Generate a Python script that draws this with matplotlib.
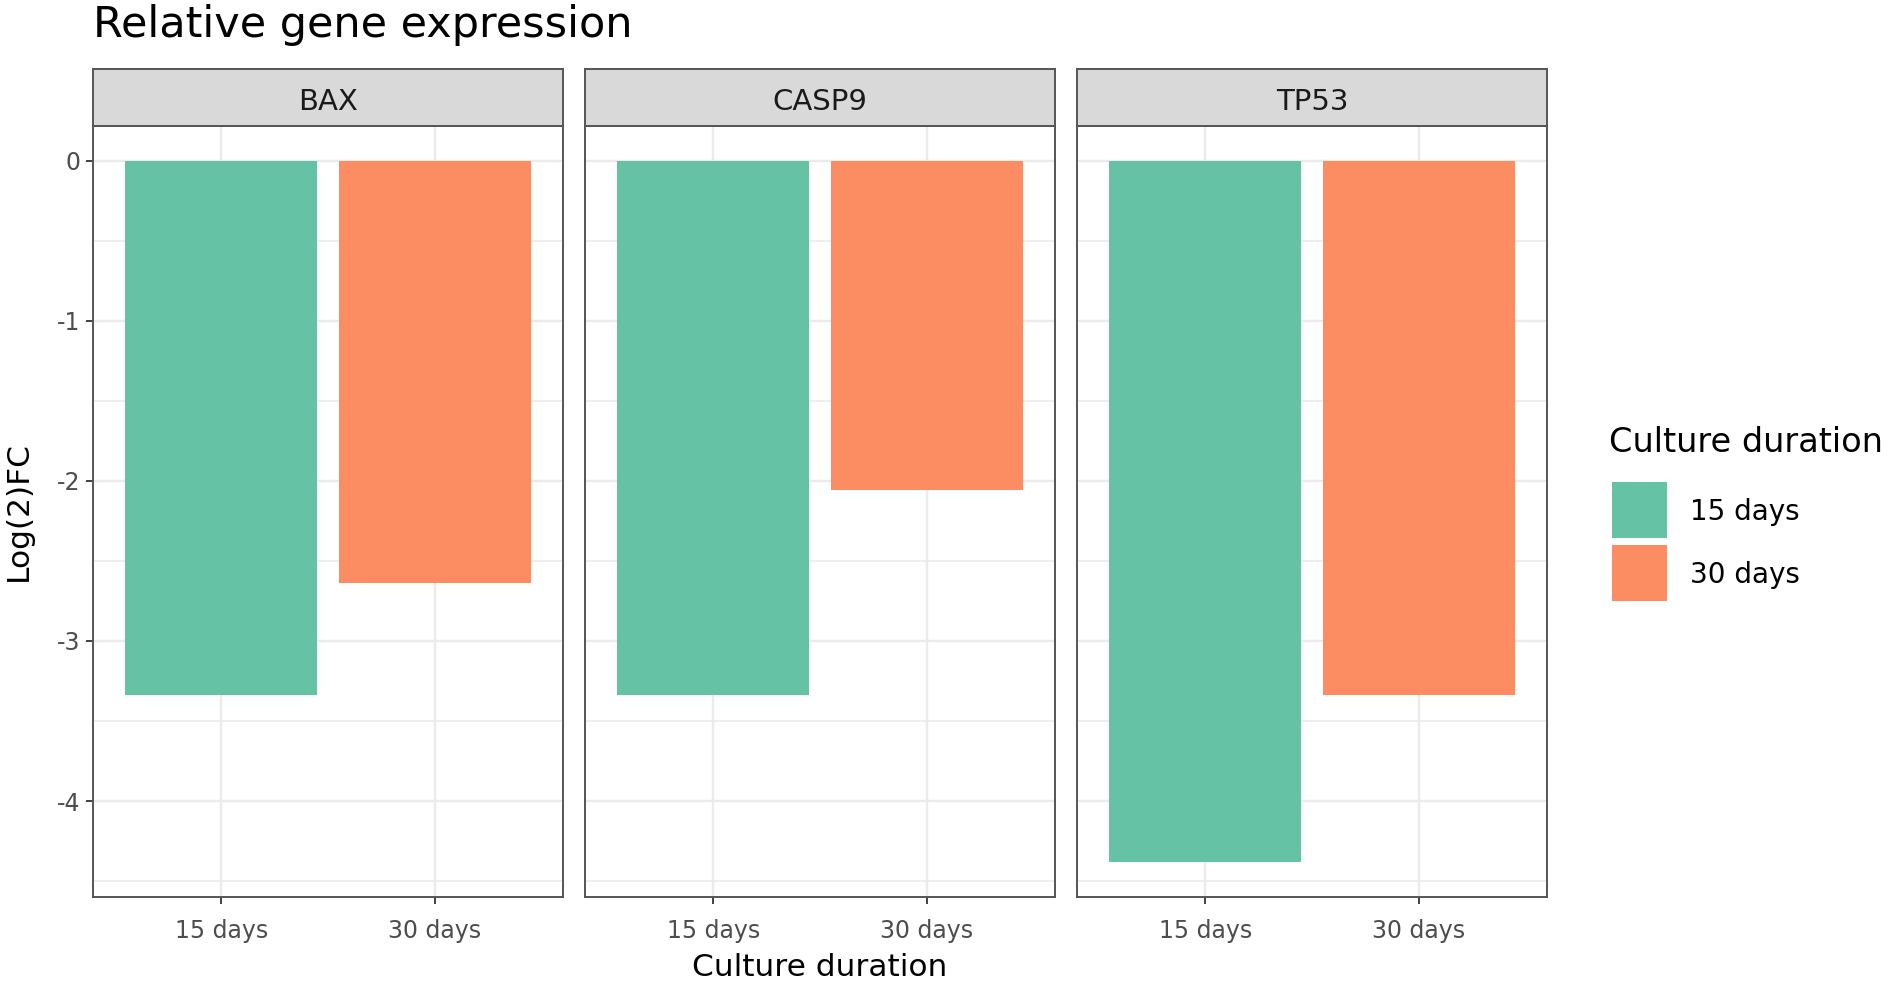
import matplotlib
matplotlib.use("Agg")
import matplotlib.pyplot as plt
from matplotlib.patches import Rectangle

# ---- data ----
genes = ["BAX", "CASP9", "TP53"]
durations = ["15 days", "30 days"]
log2fc_15days = [-3.34, -3.34, -4.38]
log2fc_30days = [-2.64, -2.06, -3.34]
colors = ["#66C2A5", "#FC8D62"]
y_ticks = [0, -1, -2, -3, -4]
y_minor = [-0.5, -1.5, -2.5, -3.5, -4.5]

plt.rcParams["font.family"] = ["DejaVu Sans"]

W, H = 1893, 984
fig = plt.figure(figsize=(W / 100, H / 100), dpi=100)
fig.patch.set_facecolor("white")

series = [log2fc_15days, log2fc_30days]
allvals = log2fc_15days + log2fc_30days + [0]
vmin, vmax = min(allvals), max(allvals)
rng = vmax - vmin
ylim = (vmin - 0.05 * rng, vmax + 0.05 * rng)

panel_top, panel_bot, strip_top = 125.6, 897.0, 68.8
panel_w = 470
border_c = "#333333"
grid_c = "#EBEBEB"

for i, g in enumerate(genes):
    left = 93 + i * 492
    ax = fig.add_axes([left / W, 1 - panel_bot / H, panel_w / W, (panel_bot - panel_top) / H])
    xs = list(range(1, len(durations) + 1))
    vals = [s[i] for s in series]
    ax.bar(xs, vals, width=0.9, color=colors, zorder=3)
    ax.set_xlim(0.4, len(durations) + 0.6)
    ax.set_ylim(*ylim)
    ax.set_xticks(xs)
    ax.set_xticklabels(durations)
    ax.set_yticks(y_ticks)
    ax.set_yticks(y_minor, minor=True)
    ax.grid(True, which="major", color=grid_c, linewidth=1.7, zorder=0)
    ax.grid(True, which="minor", axis="y", color=grid_c, linewidth=1.2, zorder=0)
    ax.set_axisbelow(True)
    for sp in ax.spines.values():
        sp.set_color("#555555")
        sp.set_linewidth(1.4)
    ax.tick_params(axis="both", which="major", length=5, width=1.3, color=border_c,
                   labelsize=17, labelcolor="#4D4D4D")
    ax.tick_params(axis="x", pad=11)
    ax.tick_params(axis="y", pad=4)
    ax.tick_params(which="minor", length=0)
    if i == 0:
        ax.set_yticklabels([str(t) for t in y_ticks])
    else:
        ax.tick_params(axis="y", which="both", left=False, labelleft=False)

    st = fig.add_axes([left / W, 1 - panel_top / H, panel_w / W, (panel_top - strip_top) / H])
    st.set_facecolor("#D9D9D9")
    st.set_xticks([])
    st.set_yticks([])
    for sp in st.spines.values():
        sp.set_color("#555555")
        sp.set_linewidth(1.4)
    st.text(0.5, 0.42, g, ha="center", va="center", fontsize=21, color="#1A1A1A",
            transform=st.transAxes)

# titles
fig.text(93 / W, 1 - 37 / H, "Relative gene expression", fontsize=31, ha="left",
         va="baseline", color="black")
fig.text((93 + 1547) / 2 / W, 1 - 968 / H, "Culture duration", fontsize=22.5,
         ha="center", va="center", color="black")
fig.text(18 / W, 1 - (panel_top + panel_bot) / 2 / H, "Log(2)FC", fontsize=22.5,
         ha="center", va="center", rotation=90, color="black")

# legend
fig.text(1609 / W, 1 - 443 / H, "Culture duration", fontsize=24.2, ha="left",
         va="center", color="black")
key_top = 482
key_h = 56
key_step = 63
for j, (lab, c) in enumerate(zip(durations, colors)):
    top = key_top + j * key_step
    fig.patches.append(Rectangle((1612 / W, 1 - (top + key_h) / H), 55 / W, key_h / H,
                                 transform=fig.transFigure, facecolor=c, edgecolor="none"))
    fig.text(1690 / W, 1 - (top + key_h / 2 + 2) / H, lab, fontsize=20, ha="left",
             va="center", color="black")

fig.savefig("out.png", dpi=100, facecolor="white")
